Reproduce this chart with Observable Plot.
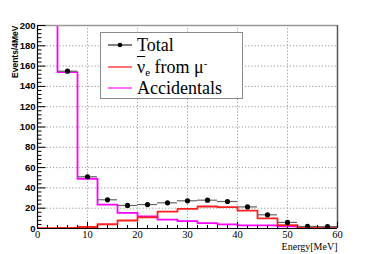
<!DOCTYPE html>
<html>
<head>
<meta charset="utf-8">
<script src="https://cdn.jsdelivr.net/npm/d3@7"></script>
<script src="https://cdn.jsdelivr.net/npm/@observablehq/plot@0.6"></script>
<style>
  html, body { margin: 0; padding: 0; background: white; }
  #wrap { position: relative; width: 374px; height: 254px; }
  #legend { position: absolute; left: 100px; top: 32px; width: 141px; height: 65px;
            border: 1.5px solid #8a8a8a; background: white; font-family: "Liberation Serif", serif; font-size: 18px; }
  .row { position: absolute; left: 0; height: 20px; width: 141px; }
  .row svg { position: absolute; left: 6px; top: 0; }
  .row span.lab { position: absolute; left: 36px; top: 0; line-height: 20px; white-space: nowrap; }
  sub { font-size: 11px; vertical-align: -3px; line-height: 0; }
  sup { font-size: 11px; vertical-align: 6px; line-height: 0; }
</style>
</head>
<body>
<div id="wrap">
  <div id="chart"></div>
  <div id="legend"></div>
</div>
<script>
// Bin lower edges (MeV), 4 MeV wide
const binStart = [0, 4, 8, 12, 16, 20, 24, 28, 32, 36, 40, 44, 48, 52, 56];
const binWidth = 4;
// nu-bar_e from mu- (red)
const nuMu = [0.4, 0.6, 1.5, 4.2, 7.9, 11, 16.7, 19.4, 21.7, 21, 17.7, 10, 3.3, 1.3, 0.6];
// Accidentals (magenta); first bin is off scale
const accidentals = [600, 154, 49, 23.5, 15.3, 12, 8.8, 7.2, 5.3, 4, 3, 3, 2, 1, 1];
// Total (points)
const total = [600, 155, 51, 28.3, 22.7, 23.6, 25.3, 27.3, 27.9, 26.6, 21.3, 13.5, 6, 2, 1.8];

const xMajor = [0, 10, 20, 30, 40, 50, 60];
const xMinor = d3.range(0, 61, 2);
const yMajor = [0, 20, 40, 60, 80, 100, 120, 140, 160, 180, 200];
const yMinor = d3.range(0, 201, 4);
const xGrid = [10, 20, 30, 40, 50];
const yGrid = [20, 40, 60, 80, 100, 120, 140, 160, 180];

const steps = vals => binStart.map((x, i) => ({x, y: vals[i]})).concat([{x: binStart[binStart.length-1] + binWidth, y: vals[vals.length-1]}]);
const totalData = binStart.map((x, i) => ({x0: x, x1: x + binWidth, xc: x + binWidth/2, y: total[i]}));

const plot = Plot.plot({
  width: 374, height: 254,
  marginLeft: 37, marginRight: 37, marginTop: 25, marginBottom: 26,
  x: {domain: [0, 60]},
  y: {domain: [0, 200]},
  style: {background: "white", overflow: "visible"},
  marks: [
    Plot.ruleX(xGrid, {stroke: "#9a9a9a", strokeDasharray: "1.2,2"}),
    Plot.ruleY(yGrid, {stroke: "#9a9a9a", strokeDasharray: "1.2,2"}),
    Plot.line(steps(accidentals), {x: "x", y: "y", curve: "step-after", stroke: "#ff00ff", strokeWidth: 1.8, clip: true}),
    Plot.line(steps(nuMu), {x: "x", y: "y", curve: "step-after", stroke: "#ff2020", strokeWidth: 1.8, clip: true}),
    Plot.ruleY(totalData, {x1: "x0", x2: "x1", y: "y", stroke: "#666", strokeWidth: 1.2, clip: true}),
    Plot.dot(totalData, {x: "xc", y: "y", r: 2.6, fill: "black", clip: true}),
    // frame
    Plot.ruleY([200], {stroke: "#999", strokeWidth: 1.5}),
    Plot.ruleX([60], {stroke: "#555", strokeWidth: 1.5}),
    Plot.ruleX([0], {stroke: "black", strokeWidth: 1.2}),
    Plot.ruleY([0], {stroke: "black", strokeWidth: 1.2}),
    // inward ticks
    Plot.ruleY(yMinor, {y: d => d, x1: 0, x2: d => d % 20 === 0 ? 1.7 : 0.9, stroke: "black"}),
    Plot.ruleX(xMinor, {x: d => d, y1: 0, y2: d => d % 10 === 0 ? 6 : 3, stroke: "black"}),
    Plot.axisY({ticks: yMajor, tickSize: 0, tickPadding: 2, label: null, fontFamily: "Liberation Sans", fontWeight: "bold", fontSize: 9.5, fill: "black"}),
    Plot.axisX({ticks: xMajor, tickSize: 0, tickPadding: 2, label: null, fontFamily: "Liberation Serif", fontSize: 10.5, fill: "black"}),
    Plot.text(["Energy[MeV]"], {frameAnchor: "bottom-right", dy: 21, lineAnchor: "bottom", textAnchor: "end", fontFamily: "Liberation Serif", fontSize: 10, fill: "black"}),
    Plot.text(["Events/4MeV"], {frameAnchor: "top-left", dx: -26, rotate: -90, textAnchor: "end", fontFamily: "Liberation Sans", fontWeight: "bold", fontSize: 8.5, fill: "black"})
  ]
});
document.getElementById("chart").appendChild(plot);

// Legend
const legendItems = [
  {html: "Total", color: "#555", dot: true},
  {html: '<span style="text-decoration: overline;">ν</span><sub>e</sub> from μ<sup>-</sup>', color: "#ff4040", dot: false},
  {html: "Accidentals", color: "#ff40ff", dot: false}
];
const legendTops = [1.5, 23.5, 45];
const legend = document.getElementById("legend");
legendItems.forEach((it, i) => {
  const row = document.createElement("div");
  row.className = "row";
  row.style.top = legendTops[i] + "px";
  row.innerHTML = `<svg width="26" height="20"><line x1="1" x2="25" y1="10" y2="10" stroke="${it.color}" stroke-width="1.5"/>${it.dot ? '<circle cx="13" cy="10" r="2.3" fill="black"/>' : ''}</svg><span class="lab">${it.html}</span>`;
  legend.appendChild(row);
});
</script>
</body>
</html>
